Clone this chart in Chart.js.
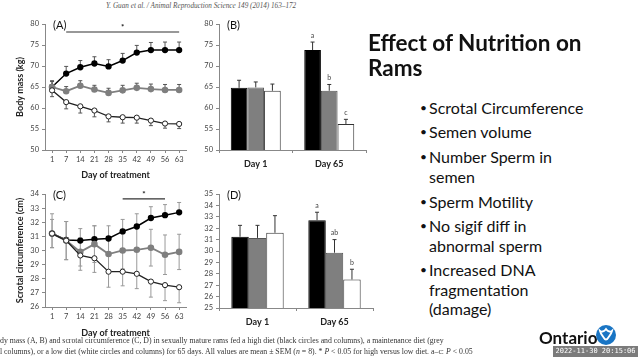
<!DOCTYPE html>
<html>
<head>
<meta charset="utf-8">
<script src="https://cdn.jsdelivr.net/npm/chart.js@4.4.1/dist/chart.umd.min.js"></script>
<style>
  body { margin: 0; background: #fff; }
  #slide { position: relative; width: 640px; height: 360px; overflow: hidden; background: #fff; font-family: Lato, sans-serif; }
  canvas { position: absolute; }
  .hdr { position: absolute; left: 106px; top: 2px; font: italic 7.2px "Liberation Serif", serif; color: #555; white-space: nowrap; }
  .title { position: absolute; left: 368px; top: 30px; font: bold 22.5px Lato, sans-serif; line-height: 25px; color: #111; }
  .bul { position: absolute; left: 429px; font: 16px Lato, sans-serif; line-height: 19.5px; color: #111; }
  .bul span { position: absolute; left: -9px; top: 0; font-size: 12px; }
  .bul div { white-space: nowrap; }
  .cap { position: absolute; left: 0; font: 7.8px "Liberation Serif", serif; color: #333; white-space: nowrap; }
  .ont { position: absolute; left: 539px; top: 327px; font: bold 17px Lato, sans-serif; color: #111; }
  .logo { position: absolute; left: 596px; top: 325px; width: 20px; height: 20px; border-radius: 50%; background: #1a75c4; }
  .stamp { position: absolute; left: 553px; top: 346px; width: 85px; height: 11px; background: rgba(90,90,90,0.8); color: #fff; font: 7px "DejaVu Sans Mono", monospace; line-height: 11px; text-align: center; }
</style>
</head>
<body>
<div id="slide">
  <div class="hdr">Y. Guan et al. / Animal Reproduction Science 149 (2014) 163–172</div>
  <canvas id="chA" width="192" height="180" style="left:0;top:0"></canvas>
  <canvas id="chB" width="180" height="180" style="left:192px;top:0"></canvas>
  <canvas id="chC" width="192" height="160" style="left:0;top:178px"></canvas>
  <canvas id="chD" width="188" height="160" style="left:192px;top:178px"></canvas>

  <div class="title">Effect of Nutrition on<br>Rams</div>
  <div class="bul" style="top:98px"><span>•</span><div>Scrotal Circumference</div></div>
  <div class="bul" style="top:122px"><span>•</span><div>Semen volume</div></div>
  <div class="bul" style="top:147px"><span>•</span><div>Number Sperm in<br>semen</div></div>
  <div class="bul" style="top:192px"><span>•</span><div>Sperm Motility</div></div>
  <div class="bul" style="top:216px"><span>•</span><div>No sigif diff in<br>abnormal sperm</div></div>
  <div class="bul" style="top:260px"><span>•</span><div>Increased DNA<br>fragmentation<br>(damage)</div></div>

  <div class="cap" style="top:336px">dy mass (A, B) and scrotal circumference (C, D) in sexually mature rams fed a high diet (black circles and columns), a maintenance diet (grey</div>
  <div class="cap" style="top:347px">l columns), or a low diet (white circles and columns) for 65 days. All values are mean ± SEM (<i>n</i> = 8). * <i>P</i> &lt; 0.05 for high versus low diet. a–c: <i>P</i> &lt; 0.05</div>

  <div class="ont">Ontario</div>
  <div class="logo">
    <svg width="20" height="20" viewBox="0 0 20 20"><path d="M10 4 C12 7 15 7 16 6 C15 10 13 11 12 13 C11 15 9 15 8 13 C7 11 5 10 4 6 C5 7 8 7 10 4 Z" fill="none" stroke="#fff" stroke-width="1.8"/></svg>
  </div>
  <div class="stamp">2022-11-30 20:15:06</div>
</div>

<script>
// jours de traitement
const days = ['1', '7', '14', '21', '28', '35', '42', '49', '56', '63'];

// (A) masse corporelle (kg)
const massHigh = [65.0, 68.2, 69.7, 70.6, 69.9, 71.3, 73.2, 73.8, 73.8, 73.8];
const massHighErr = [1.5, 1.7, 1.6, 1.6, 1.6, 1.7, 1.7, 1.8, 1.9, 1.9];
const massMaint = [65.0, 64.0, 65.3, 64.4, 63.6, 64.2, 64.8, 64.5, 64.3, 64.3];
const massMaintErr = [1.3, 1.1, 1.2, 1.0, 1.1, 1.2, 1.1, 1.2, 1.3, 1.3];
const massLow = [64.2, 61.4, 60.4, 59.4, 58.0, 57.8, 57.7, 57.0, 56.3, 56.2];
const massLowErr = [1.5, 1.6, 1.6, 1.5, 1.3, 1.4, 1.3, 1.2, 1.1, 1.1];

// (C) circonference scrotale (cm)
const scrHigh = [31.2, 30.75, 30.7, 30.8, 30.85, 31.35, 31.7, 32.3, 32.5, 32.7];
const scrHighErr = [1.4, 1.3, 0.85, 0.95, 0.9, 0.85, 0.9, 0.8, 0.75, 0.7];
const scrMaint = [31.2, 30.7, 29.9, 30.45, 29.75, 30.0, 30.05, 30.2, 29.7, 29.9];
const scrMaintErr = [1.0, 1.35, 1.0, 1.3, 1.2, 1.3, 1.6, 1.3, 1.4, 1.25];
const scrLow = [31.2, 30.7, 29.65, 29.45, 28.5, 28.5, 28.35, 27.8, 27.55, 27.4];
const scrLowErr = [1.0, 1.35, 1.05, 1.0, 1.1, 1.0, 1.05, 1.1, 1.1, 1.1];

// (B) et (D) colonnes
const barDays = ['Day 1', 'Day 65'];
const massBarHigh = [64.8, 73.8];
const massBarHighErr = [1.8, 1.9];
const massBarMaint = [64.9, 64.1];
const massBarMaintErr = [1.3, 1.5];
const massBarLow = [64.1, 56.2];
const massBarLowErr = [1.6, 1.1];
const massBarLetters = [['', 'a'], ['', 'b'], ['', 'c']];

const scrBarHigh = [31.25, 32.7];
const scrBarHighErr = [1.0, 0.7];
const scrBarMaint = [31.15, 29.85];
const scrBarMaintErr = [1.1, 1.15];
const scrBarLow = [31.6, 27.5];
const scrBarLowErr = [1.5, 0.9];
const scrBarLetters = [['', 'a'], ['', 'ab'], ['', 'b']];

Chart.defaults.font.family = 'Lato, sans-serif';
Chart.defaults.color = '#444';

// barres d'erreur (dataset.errors), dessinées avec les échelles du graphique
function errorPlugin(when) {
    const draw = function(chart) {
        const ctx = chart.ctx;
        const yScale = chart.scales.y;
        chart.data.datasets.forEach((ds, i) => {
            if (!ds.errors) return;
            const meta = chart.getDatasetMeta(i);
            ctx.save();
            ctx.strokeStyle = ds.errColor || '#444';
            ctx.lineWidth = 1;
            meta.data.forEach((el, j) => {
                const v = ds.data[j], e = ds.errors[j];
                const yTop = (ds.errDir === 'down') ? yScale.getPixelForValue(v) : yScale.getPixelForValue(v + e);
                const yBot = (ds.errDir === 'up') ? yScale.getPixelForValue(v) : yScale.getPixelForValue(v - e);
                ctx.beginPath();
                ctx.moveTo(el.x, yTop);
                ctx.lineTo(el.x, yBot);
                if (ds.errDir !== 'down') { ctx.moveTo(el.x - 2, yTop); ctx.lineTo(el.x + 2, yTop); }
                if (ds.errDir !== 'up') { ctx.moveTo(el.x - 2, yBot); ctx.lineTo(el.x + 2, yBot); }
                ctx.stroke();
                // lettres de significativité
                if (ds.letters && ds.letters[j]) {
                    ctx.fillStyle = '#444';
                    ctx.font = '7px Lato';
                    ctx.textAlign = 'center';
                    ctx.textBaseline = 'bottom';
                    ctx.fillText(ds.letters[j], el.x, yScale.getPixelForValue(v + e) - 3);
                }
            });
            ctx.restore();
        });
    };
    const p = { id: 'err' + when };
    p[when] = draw;
    return p;
}

// étiquette du panneau et trait de significativité
function annotPlugin(panel, sig) {
    return {
        id: 'annot',
        afterDraw(chart) {
            const ctx = chart.ctx;
            const a = chart.chartArea;
            ctx.save();
            ctx.fillStyle = '#111';
            ctx.font = '11px Lato';
            ctx.textBaseline = 'middle';
            ctx.fillText(panel, a.left + 8, a.top + 1);
            if (sig) {
                const x0 = chart.scales.x.getPixelForValue(days.indexOf(sig.from));
                const x1 = chart.scales.x.getPixelForValue(days.indexOf(sig.to));
                const y = chart.scales.y.getPixelForValue(sig.y);
                ctx.strokeStyle = '#333';
                ctx.lineWidth = 1.2;
                ctx.beginPath();
                ctx.moveTo(x0, y);
                ctx.lineTo(x1, y);
                ctx.stroke();
                ctx.font = 'bold 8px Lato';
                ctx.textAlign = 'center';
                ctx.fillText('*', (x0 + x1) / 2, y - 5);
            }
            ctx.restore();
        }
    };
}

function axes(yMin, yMax, step, yTitle, xTitle, yWidth, xHeight) {
    const x = {
        offset: true,
        grid: { drawOnChartArea: false, tickLength: 3, color: '#888' },
        border: { color: '#888' },
        ticks: { font: { size: 7.5 }, color: '#444', padding: 2, maxRotation: 0, autoSkip: false },
        afterFit: s => { s.height = xHeight; }
    };
    if (xTitle) {
        x.title = { display: true, text: xTitle, font: { size: 9, weight: 'bold' }, color: '#222', padding: 0 };
    } else {
        x.ticks.font = { size: 9, weight: 'bold' };
        x.ticks.color = '#222';
        x.ticks.padding = 6;
    }
    const y = {
        min: yMin, max: yMax,
        grid: { drawOnChartArea: false, tickLength: 3, color: '#888' },
        border: { color: '#888' },
        ticks: { stepSize: step, font: { size: 7.5 }, color: '#444', padding: 3, autoSkip: false },
        afterFit: s => { s.width = yWidth; }
    };
    if (yTitle) {
        y.title = { display: true, text: yTitle, font: { size: 9, weight: 'bold' }, color: '#222', padding: { top: 15, bottom: 0 } };
    }
    return { x: x, y: y };
}

function lineSets(hi, hiErr, mid, midErr, lo, loErr, errColor, dirs) {
    return [
        { data: lo, errors: loErr, errDir: dirs[2], errColor: errColor, borderColor: '#222', borderWidth: 1.3,
          pointBackgroundColor: '#fff', pointBorderColor: '#222', pointRadius: 2.6, pointBorderWidth: 1 },
        { data: mid, errors: midErr, errDir: dirs[1], errColor: errColor, borderColor: '#7f7f7f', borderWidth: 1.8,
          pointBackgroundColor: '#7f7f7f', pointBorderColor: '#7f7f7f', pointRadius: 2.4 },
        { data: hi, errors: hiErr, errDir: dirs[0], errColor: errColor, borderColor: '#000', borderWidth: 1.5,
          pointBackgroundColor: '#000', pointBorderColor: '#000', pointRadius: 2.4 }
    ];
}

function barSets(hi, hiErr, mid, midErr, lo, loErr, letters) {
    const common = { barPercentage: 1, categoryPercentage: 0.68, borderWidth: 1, errDir: 'up', errColor: '#333' };
    return [
        Object.assign({ data: hi, errors: hiErr, letters: letters[0], backgroundColor: '#000', borderColor: '#000' }, common),
        Object.assign({ data: mid, errors: midErr, letters: letters[1], backgroundColor: '#7f7f7f', borderColor: '#555' }, common),
        Object.assign({ data: lo, errors: loErr, letters: letters[2], backgroundColor: '#fff', borderColor: '#333' }, common)
    ];
}

const baseOpts = {
    responsive: false,
    animation: false,
    devicePixelRatio: 1,
    plugins: { legend: { display: false }, tooltip: { enabled: false } }
};

new Chart(document.getElementById('chA'), {
    type: 'line',
    data: { labels: days, datasets: lineSets(massHigh, massHighErr, massMaint, massMaintErr, massLow, massLowErr, '#555', ['up', 'up', 'down']) },
    options: Object.assign({}, baseOpts, {
        layout: { padding: { top: 24, right: 5, left: 0, bottom: 0 } },
        scales: axes(50, 80, 5, 'Body mass (kg)', 'Day of treatment', 45, 30)
    }),
    plugins: [errorPlugin('beforeDatasetsDraw'), annotPlugin('(A)', { from: '7', to: '63', y: 78.1 })]
});

new Chart(document.getElementById('chB'), {
    type: 'bar',
    data: { labels: barDays, datasets: barSets(massBarHigh, massBarHighErr, massBarMaint, massBarMaintErr, massBarLow, massBarLowErr, massBarLetters) },
    options: Object.assign({}, baseOpts, {
        layout: { padding: { top: 24, right: 6, left: 0, bottom: 0 } },
        scales: axes(50, 80, 5, null, null, 27, 30)
    }),
    plugins: [errorPlugin('afterDatasetsDraw'), annotPlugin('(B)', null)]
});

new Chart(document.getElementById('chC'), {
    type: 'line',
    data: { labels: days, datasets: lineSets(scrHigh, scrHighErr, scrMaint, scrMaintErr, scrLow, scrLowErr, '#999', ['up', 'both', 'down']) },
    options: Object.assign({}, baseOpts, {
        layout: { padding: { top: 16, right: 5, left: 0, bottom: 0 } },
        scales: axes(26, 34, 1, 'Scrotal circumference (cm)', 'Day of treatment', 45, 31)
    }),
    plugins: [errorPlugin('beforeDatasetsDraw'), annotPlugin('(C)', { from: '35', to: '56', y: 33.65 })]
});

new Chart(document.getElementById('chD'), {
    type: 'bar',
    data: { labels: barDays, datasets: barSets(scrBarHigh, scrBarHighErr, scrBarMaint, scrBarMaintErr, scrBarLow, scrBarLowErr, scrBarLetters) },
    options: Object.assign({}, baseOpts, {
        layout: { padding: { top: 16, right: 7, left: 0, bottom: 0 } },
        scales: axes(25, 35, 1, null, null, 27, 30)
    }),
    plugins: [errorPlugin('afterDatasetsDraw'), annotPlugin('(D)', null)]
});
</script>
</body>
</html>
